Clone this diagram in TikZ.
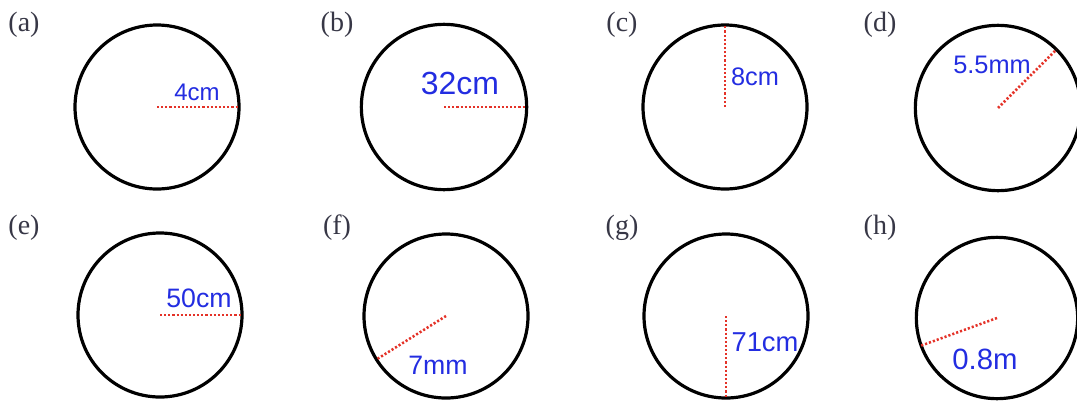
\documentclass[tikz,border=0pt]{standalone}
\usepackage{fontspec}
\setmainfont{Liberation Serif}
\setsansfont{Liberation Sans}
\usepackage{tikz}

\definecolor{lenblue}{RGB}{35,45,225}
\definecolor{radred}{RGB}{228,50,40}
\definecolor{tagcol}{RGB}{55,55,70}

\tikzset{
  rim/.style={circle,draw,line width=2.4pt,minimum size=#1,inner sep=0pt,outer sep=0pt},
  rim/.default=123pt,
  radline/.style={radred,line width=1.9pt,dash pattern=on 1.6pt off 1.5pt},
  lenlabel/.style={text=lenblue,inner sep=0pt,font=\sffamily\fontsize{#1}{#1}\selectfont},
  lenlabel/.default=20,
  tag/.style={text=tagcol,inner sep=0pt,font=\fontsize{21}{21}\selectfont}
}

\begin{document}
\begin{tikzpicture}[x=0.75pt,y=-0.75pt]
  \useasboundingbox (0,0) rectangle (1077,400);
  % top row
  \node[tag] (ta) at (24,25) {(a)};
  \node[rim] (ca) at (157,107) {};
  \draw[radline] (ca.center) -- (ca.0);
  \node[lenlabel=18] (la) at (197,92) {4cm};

  \node[tag] (tb) at (337,25) {(b)};
  \node[rim=124pt] (cb) at (444,107) {};
  \draw[radline] (cb.center) -- (cb.0);
  \node[lenlabel=24] (lb) at (460,83) {32cm};

  \node[tag] (tc) at (622,25) {(c)};
  \node[rim] (cc) at (725,107) {};
  \draw[radline] (cc.center) -- (cc.90);
  \node[lenlabel=19] (lc) at (755,77) {8cm};

  \node[tag] (td) at (880,25) {(d)};
  \node[rim=124pt] (cd) at (998,108) {};
  \draw[radline] (cd.center) -- (cd.45);
  \node[lenlabel=19] (ld) at (992,65) {5.5mm};

  % bottom row
  \node[tag] (te) at (24,228) {(e)};
  \node[rim] (ce) at (160,315) {};
  \draw[radline] (ce.center) -- (ce.0);
  \node[lenlabel] (le) at (199,298) {50cm};

  \node[tag] (tf) at (337,228) {(f)};
  \node[rim] (cf) at (446,316) {};
  \draw[radline] (cf.center) -- (cf.212);
  \node[lenlabel] (lf) at (438,365) {7mm};

  \node[tag] (tg) at (622,228) {(g)};
  \node[rim] (cg) at (726,316) {};
  \draw[radline] (cg.center) -- (cg.270);
  \node[lenlabel=20.5] (lg) at (765,342) {71cm};

  \node[tag] (th) at (880,228) {(h)};
  \node[rim=121pt] (ch) at (997,318) {};
  \draw[radline] (ch.center) -- (ch.200);
  \node[lenlabel=22] (lh) at (985,359) {0.8m};
\end{tikzpicture}
\end{document}
